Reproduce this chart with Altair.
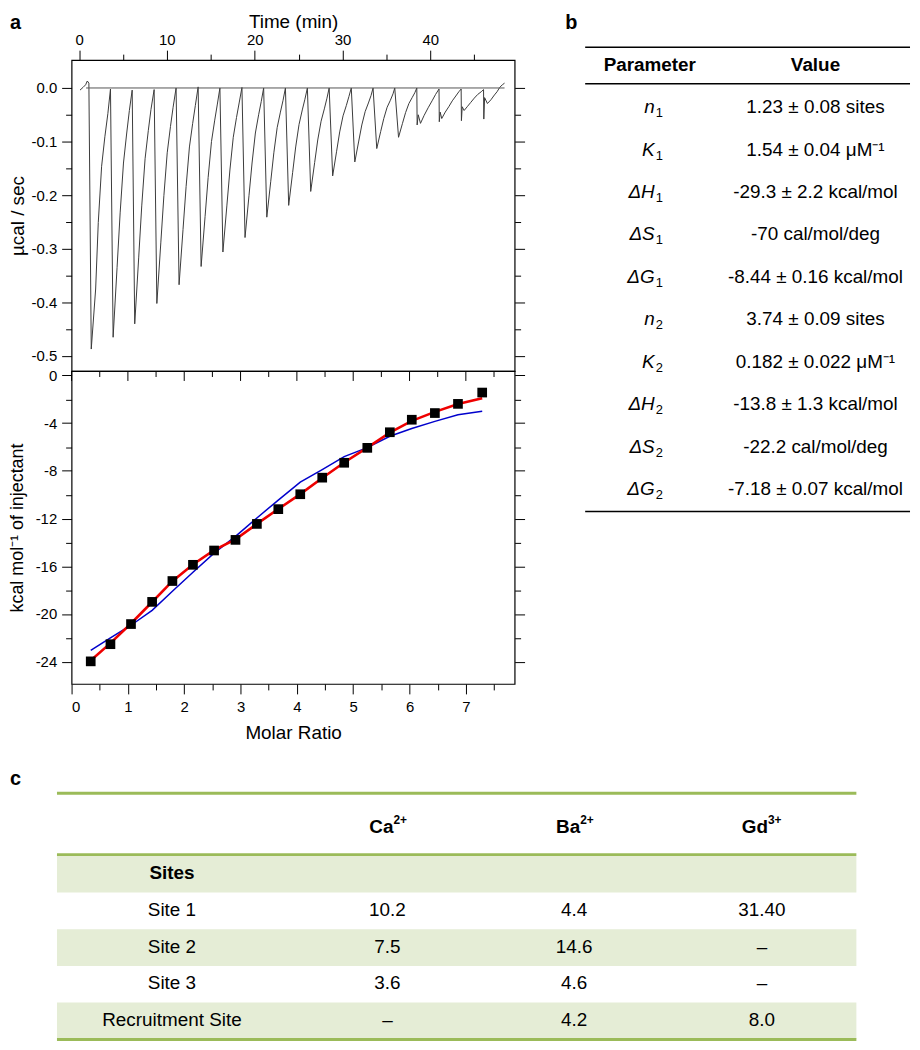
import altair as alt
import pandas as pd

FONT = "Liberation Sans"

# ---------------- panel a (upper): raw ITC thermogram ----------------
trace_time = [
    0.11, 0.45, 0.75, 0.94,
    1.12, 1.39, 1.89, 2.19, 2.57, 2.94, 3.28,
    3.58, 3.88, 4.33, 4.68, 5.06, 5.43, 5.73,
    6.05, 6.34, 6.79, 7.14, 7.52, 7.89, 8.19,
    8.55, 8.86, 9.31, 9.66, 10.04, 10.41, 10.71,
    11.05, 11.39, 11.84, 12.19, 12.57, 12.94, 13.24,
    13.56, 13.90, 14.35, 14.70, 15.08, 15.45, 15.75,
    16.04, 16.38, 16.83, 17.18, 17.56, 17.93, 18.23,
    18.55, 18.90, 19.35, 19.70, 20.08, 20.45, 20.75,
    21.02, 21.38, 21.83, 22.18, 22.56, 22.93, 23.23,
    23.50, 23.87, 24.32, 24.67, 25.05, 25.42, 25.72,
    26.00, 26.38, 26.83, 27.18, 27.56, 27.93, 28.23,
    28.48, 28.88, 29.33, 29.68, 30.06, 30.43, 30.73,
    31.00, 31.40, 31.85, 32.20, 32.58, 32.95, 33.25,
    33.48, 33.90, 34.35, 34.70, 35.08, 35.45, 35.75,
    35.95, 36.38, 36.83, 37.18, 37.56, 37.93, 38.23,
    38.46, 38.50, 38.62, 38.88, 39.30, 39.75, 40.20, 40.60,
    40.99, 41.02, 41.12, 41.30, 41.70, 42.10, 42.50, 42.90, 43.25,
    43.51, 43.54, 43.63, 43.85, 44.20, 44.60, 45.00, 45.40, 45.80,
    46.06, 46.09, 46.18, 46.50, 46.90, 47.30, 47.60, 47.90, 48.20, 48.45,
]
trace_power = [
    -0.004, 0.001, 0.006, 0.013,
    0.009, -0.487, -0.375, -0.251, -0.146, -0.091, -0.048,
    -0.002, -0.465, -0.335, -0.233, -0.140, -0.084, -0.042,
    -0.004, -0.440, -0.317, -0.220, -0.132, -0.079, -0.040,
    -0.003, -0.402, -0.289, -0.201, -0.121, -0.072, -0.036,
    0.000, -0.367, -0.264, -0.184, -0.110, -0.066, -0.033,
    0.002, -0.333, -0.240, -0.167, -0.100, -0.060, -0.030,
    0.000, -0.306, -0.220, -0.153, -0.092, -0.055, -0.028,
    0.001, -0.279, -0.201, -0.140, -0.084, -0.050, -0.025,
    0.000, -0.241, -0.174, -0.121, -0.074, -0.045, -0.023,
    0.000, -0.219, -0.158, -0.110, -0.068, -0.041, -0.021,
    0.000, -0.193, -0.139, -0.097, -0.062, -0.039, -0.019,
    0.000, -0.164, -0.118, -0.082, -0.052, -0.033, -0.016,
    0.000, -0.138, -0.099, -0.069, -0.044, -0.028, -0.014,
    0.000, -0.113, -0.081, -0.057, -0.036, -0.023, -0.011,
    0.000, -0.092, -0.066, -0.046, -0.029, -0.018, -0.009,
    0.000, -0.069, -0.050, -0.066, -0.051, -0.037, -0.024, -0.012,
    -0.002, -0.063, -0.045, -0.057, -0.045, -0.035, -0.024, -0.015, -0.007,
    -0.002, -0.061, -0.035, -0.042, -0.035, -0.027, -0.019, -0.012, -0.007,
    -0.003, -0.058, -0.018, -0.029, -0.022, -0.013, -0.007, 0.001, 0.006, 0.009,
]
baseline_time = [0.8, 48.45]
baseline_power = [0.0, 0.0]

time_major = [0, 10, 20, 30, 40]
time_minor = [5, 15, 25, 35, 45]
power_major = [0.0, -0.1, -0.2, -0.3, -0.4, -0.5]
power_minor = [-0.05, -0.15, -0.25, -0.35, -0.45]

# ---------------- panel a (lower): integrated heats ----------------
molar_ratio = [0.34, 0.69, 1.055, 1.43, 1.79, 2.155, 2.53, 2.91, 3.29, 3.67,
               4.06, 4.45, 4.84, 5.25, 5.65, 6.04, 6.45, 6.86, 7.29]
heat = [-23.98, -22.54, -20.85, -18.99, -17.24, -15.88, -14.68, -13.79, -12.45, -11.21,
        -9.96, -8.57, -7.32, -6.07, -4.76, -3.71, -3.15, -2.38, -1.43]
fit_two_site = [-23.9, -22.45, -20.8, -19.0, -17.25, -15.85, -14.65, -13.75, -12.45, -11.2,
                -9.95, -8.6, -7.3, -6.05, -4.8, -3.8, -3.05, -2.4, -1.9]
fit_one_site = [-23.05, -22.0, -20.95, -19.7, -18.1, -16.5, -14.9, -13.5, -11.95, -10.45,
                -8.95, -7.9, -6.8, -6.05, -5.1, -4.45, -3.85, -3.3, -3.0]

ratio_major = [0, 1, 2, 3, 4, 5, 6, 7]
ratio_minor = [0.5, 1.5, 2.5, 3.5, 4.5, 5.5, 6.5, 7.5]
heat_major = [0, -4, -8, -12, -16, -20, -24]
heat_minor = [-2, -6, -10, -14, -18, -22]

# ---------------- panel b: fitted parameters ----------------
header_b = ["Parameter", "Value"]
param_symbol = ["n", "K", "ΔH", "ΔS", "ΔG", "n", "K", "ΔH", "ΔS", "ΔG"]
param_site = ["1", "1", "1", "1", "1", "2", "2", "2", "2", "2"]
param_value = [
    "1.23 ± 0.08 sites",
    "1.54 ± 0.04 μM⁻¹",
    "-29.3 ± 2.2 kcal/mol",
    "-70 cal/mol/deg",
    "-8.44 ± 0.16 kcal/mol",
    "3.74 ± 0.09 sites",
    "0.182 ± 0.022 μM⁻¹",
    "-13.8 ± 1.3 kcal/mol",
    "-22.2 cal/mol/deg",
    "-7.18 ± 0.07 kcal/mol",
]

# ---------------- panel c: site table ----------------
site_labels = ["Sites", "Site 1", "Site 2", "Site 3", "Recruitment Site"]
ion_symbols = ["Ca", "Ba", "Gd"]
ion_charges = ["2+", "2+", "3+"]
ca_values = ["", "10.2", "7.5", "3.6", "–"]
ba_values = ["", "4.4", "14.6", "4.6", "4.2"]
gd_values = ["", "31.40", "–", "–", "8.0"]

# ---------------- layout constants (styling) ----------------
HY = "replace(datum.label, '\u2212', '-')"
W_A, H_TOP, H_BOT = 446, 313, 315
W_B = 327
W_C = 790
TFS = 19  # table font size
TAG_Y = -31


def tick_axis(orient, values, size):
    return alt.Axis(orient=orient, values=values, tickSize=size, labels=False,
                    title=None, domain=False, grid=False, tickColor="black", tickWidth=1)


def tag(letter, dx, dy):
    return alt.Chart(pd.DataFrame({"tag": [letter]})).mark_text(
        font=FONT, fontSize=20, fontWeight="bold", align="left", baseline="alphabetic",
        color="black").encode(text="tag:N", x=alt.value(dx), y=alt.value(dy))


# ---- upper plot ----
top_df = pd.DataFrame({"time": trace_time, "power": trace_power})
base_df = pd.DataFrame({"time": baseline_time, "power": baseline_power})
xs_top = alt.Scale(domain=[-0.85, 49.6], nice=False, zero=False)
ys_top = alt.Scale(domain=[-0.528, 0.052], nice=False, zero=False)

top_trace = alt.Chart(top_df).mark_line(color="#3a3a3a", strokeWidth=1).encode(
    x=alt.X("time:Q", scale=xs_top,
            axis=alt.Axis(orient="top", values=time_major, tickSize=10, labelPadding=3,
                          labelFontSize=15, title="Time (min)", titleFontSize=19, titleY=-29,
                          domain=False, grid=False, tickColor="black")),
    y=alt.Y("power:Q", scale=ys_top,
            axis=alt.Axis(orient="left", values=power_major, tickSize=10, labelPadding=5,
                          labelFontSize=15, format=".1f", labelExpr=HY, title="µcal / sec",
                          titleFontSize=19, titleX=-44, domain=False, grid=False,
                          tickColor="black")),
)
top_base = alt.Chart(base_df).mark_line(color="#555555", strokeWidth=1).encode(
    x=alt.X("time:Q", scale=xs_top, axis=tick_axis("top", time_minor, 6)),
    y=alt.Y("power:Q", scale=ys_top, axis=tick_axis("left", power_minor, 6)),
)
top_r1 = alt.Chart(top_df).mark_point(opacity=0).encode(
    x=alt.X("time:Q", scale=xs_top, axis=None),
    y=alt.Y("power:Q", scale=ys_top, axis=tick_axis("right", power_major, 10)),
)
top_r2 = alt.Chart(top_df).mark_point(opacity=0).encode(
    x=alt.X("time:Q", scale=xs_top, axis=None),
    y=alt.Y("power:Q", scale=ys_top, axis=tick_axis("right", power_minor, 6)),
)
top = alt.layer(top_trace, top_base, top_r1, top_r2, tag("a", -62, TAG_Y)).resolve_axis(
    x="independent", y="independent").properties(
    width=W_A, height=H_TOP, view=alt.ViewBackground(stroke="black", strokeWidth=1.2))

# ---- lower plot ----
bot_df = pd.DataFrame({"ratio": molar_ratio, "heat": heat,
                       "fit2": fit_two_site, "fit1": fit_one_site})
xs_bot = alt.Scale(domain=[0, 7.866], nice=False, zero=False)
ys_bot = alt.Scale(domain=[-25.875, 0.375], nice=False, zero=False)

one_site = alt.Chart(bot_df).mark_line(color="#0000cc", strokeWidth=1.5).encode(
    x=alt.X("ratio:Q", scale=xs_bot, axis=tick_axis("bottom", ratio_minor, 6)),
    y=alt.Y("fit1:Q", scale=ys_bot, axis=tick_axis("left", heat_minor, 6)),
)
two_site = alt.Chart(bot_df).mark_line(color="#ee0000", strokeWidth=2.6).encode(
    x=alt.X("ratio:Q", scale=xs_bot,
            axis=alt.Axis(orient="bottom", values=ratio_major, tickSize=10, labelPadding=6,
                          labelFontSize=15, title="Molar Ratio", titleFontSize=19,
                          titlePadding=9, domain=False, grid=False, tickColor="black")),
    y=alt.Y("fit2:Q", scale=ys_bot,
            axis=alt.Axis(orient="left", values=heat_major, tickSize=10, labelPadding=5,
                          labelFontSize=15, labelExpr=HY, title="kcal mol⁻¹ of injectant",
                          titleFontSize=18, titleX=-45, domain=False, grid=False,
                          tickColor="black")),
)
squares = alt.Chart(bot_df).mark_square(size=95, color="black", opacity=1).encode(
    x=alt.X("ratio:Q", scale=xs_bot, axis=None),
    y=alt.Y("heat:Q", scale=ys_bot, axis=tick_axis("right", heat_major, 10)),
)
bot_r2 = alt.Chart(bot_df).mark_point(opacity=0).encode(
    x=alt.X("ratio:Q", scale=xs_bot, axis=None),
    y=alt.Y("heat:Q", scale=ys_bot, axis=tick_axis("right", heat_minor, 6)),
)
inner_major = alt.Chart(pd.DataFrame({"ratio": ratio_major})).mark_rule(
    color="black", strokeWidth=1).encode(
    x=alt.X("ratio:Q", scale=xs_bot, axis=None), y=alt.value(0), y2=alt.value(10))
inner_minor = alt.Chart(pd.DataFrame({"ratio": ratio_minor})).mark_rule(
    color="black", strokeWidth=1).encode(
    x=alt.X("ratio:Q", scale=xs_bot, axis=None), y=alt.value(0), y2=alt.value(6))

bottom = alt.layer(one_site, two_site, squares, bot_r2, inner_major, inner_minor).resolve_axis(
    x="independent", y="independent").properties(
    width=W_A, height=H_BOT, view=alt.ViewBackground(stroke="black", strokeWidth=1.2))

# ---- table b ----
COL_B = {"param": 0.199, "symbol": 0.214, "value": 0.709}
xs_b = alt.Scale(domain=[0, 1], range=[0, W_B])
ys_b = alt.Scale(domain=[0, 10], range=[4.6, 432.1])
b_rule_rows = [-0.41, 0.45, 10.52]

tb = pd.DataFrame({"row": list(range(1, 11)), "symbol": param_symbol,
                   "site": param_site, "value": param_value})
tb["xs"] = COL_B["symbol"]
tb["xv"] = COL_B["value"]
tb_head = pd.DataFrame({"row": [0, 0], "x": [COL_B["param"], COL_B["value"]], "text": header_b})

b_rules = alt.Chart(pd.DataFrame({"row": b_rule_rows})).mark_rule(
    color="black", strokeWidth=1.6).encode(
    y=alt.Y("row:Q", scale=ys_b, axis=None), x=alt.value(0), x2=alt.value(W_B))
b_head = alt.Chart(tb_head).mark_text(font=FONT, fontSize=TFS, fontWeight="bold",
                                      color="black").encode(
    x=alt.X("x:Q", scale=xs_b, axis=None), y=alt.Y("row:Q", scale=ys_b, axis=None),
    text="text:N")
b_sym = alt.Chart(tb).mark_text(font=FONT, fontSize=TFS, fontStyle="italic", align="right",
                                color="black").encode(
    x=alt.X("xs:Q", scale=xs_b, axis=None), y=alt.Y("row:Q", scale=ys_b, axis=None),
    text="symbol:N")
b_sub = alt.Chart(tb).mark_text(font=FONT, fontSize=13, align="left", dx=1, dy=6,
                                color="black").encode(
    x=alt.X("xs:Q", scale=xs_b, axis=None), y=alt.Y("row:Q", scale=ys_b, axis=None),
    text="site:N")
b_val = alt.Chart(tb).mark_text(font=FONT, fontSize=TFS, color="black").encode(
    x=alt.X("xv:Q", scale=xs_b, axis=None), y=alt.Y("row:Q", scale=ys_b, axis=None),
    text="value:N")
table_b = alt.layer(b_rules, b_head, b_sym, b_sub, b_val, tag("b", -20, TAG_Y)).properties(
    width=W_B, height=440, view=alt.ViewBackground(stroke="transparent"))

# ---- table c ----
COL_C = [0.1438, 0.4134, 0.647, 0.8819]
xs_c = alt.Scale(domain=[0, 1], range=[-14.7, W_C])
ys_c = alt.Scale(domain=[-1.19, 5.55], range=[0, 248.7])
c_rule_rows = [-1.19, 0.485, 5.53]
HEADER_ROW = -0.28
shaded_rows = [1, 3, 5]

shade = pd.DataFrame({"row": shaded_rows})
shade["y0"] = shade["row"] - 0.48
shade["y1"] = shade["row"] + 0.52
shade["x0"] = 0.0
shade["x1"] = 1.0

cells = []
for i, lab in enumerate(site_labels):
    for j, v in enumerate([ca_values[i], ba_values[i], gd_values[i]]):
        cells.append({"row": i + 1, "x": COL_C[j + 1], "text": v})
cells = pd.DataFrame(cells)
labels = pd.DataFrame({"row": list(range(1, 6)), "x": COL_C[0], "text": site_labels})
heads = pd.DataFrame({"row": HEADER_ROW, "x": COL_C[1:], "sym": ion_symbols,
                      "charge": ion_charges})

c_shade = alt.Chart(shade).mark_rect(color="#e5edd6").encode(
    x=alt.X("x0:Q", scale=xs_c, axis=None), x2="x1:Q",
    y=alt.Y("y0:Q", scale=ys_c, axis=None), y2="y1:Q")
c_rules = alt.Chart(pd.DataFrame({"row": c_rule_rows})).mark_rule(
    color="#9bbb59", strokeWidth=3).encode(
    y=alt.Y("row:Q", scale=ys_c, axis=None),
    x=alt.X(datum=0, scale=xs_c, axis=None), x2=alt.X2(datum=1))
c_head_sym = alt.Chart(heads).mark_text(font=FONT, fontSize=TFS, fontWeight="bold",
                                        align="right", dx=6, color="black").encode(
    x=alt.X("x:Q", scale=xs_c, axis=None), y=alt.Y("row:Q", scale=ys_c, axis=None),
    text="sym:N")
c_head_chg = alt.Chart(heads).mark_text(font=FONT, fontSize=12, fontWeight="bold",
                                        align="left", dx=6, dy=-7, color="black").encode(
    x=alt.X("x:Q", scale=xs_c, axis=None), y=alt.Y("row:Q", scale=ys_c, axis=None),
    text="charge:N")
c_label_bold = alt.Chart(labels.iloc[:1]).mark_text(font=FONT, fontSize=TFS, fontWeight="bold",
                                                   color="black").encode(
    x=alt.X("x:Q", scale=xs_c, axis=None), y=alt.Y("row:Q", scale=ys_c, axis=None),
    text="text:N")
c_labels = alt.Chart(labels.iloc[1:]).mark_text(font=FONT, fontSize=TFS, color="black").encode(
    x=alt.X("x:Q", scale=xs_c, axis=None), y=alt.Y("row:Q", scale=ys_c, axis=None),
    text="text:N")
c_cells = alt.Chart(cells).mark_text(font=FONT, fontSize=TFS, color="black").encode(
    x=alt.X("x:Q", scale=xs_c, axis=None), y=alt.Y("row:Q", scale=ys_c, axis=None),
    text="text:N")
table_c = alt.layer(c_shade, c_rules, c_head_sym, c_head_chg, c_label_bold, c_labels, c_cells,
                    tag("c", -62, -8)).properties(
    width=W_C, height=249, view=alt.ViewBackground(stroke="transparent"))

# ---- assemble ----
panel_a = alt.vconcat(top, bottom, spacing=0, bounds="flush")
row1 = alt.hconcat(panel_a, table_b, spacing=38)
chart = alt.vconcat(row1, table_c, spacing=25, padding=0).configure_axis(
    labelFont=FONT, titleFont=FONT, labelColor="black", titleColor="black",
    titleFontWeight="normal")

chart.save("out.html", embed_options={"renderer": "svg", "actions": False})
